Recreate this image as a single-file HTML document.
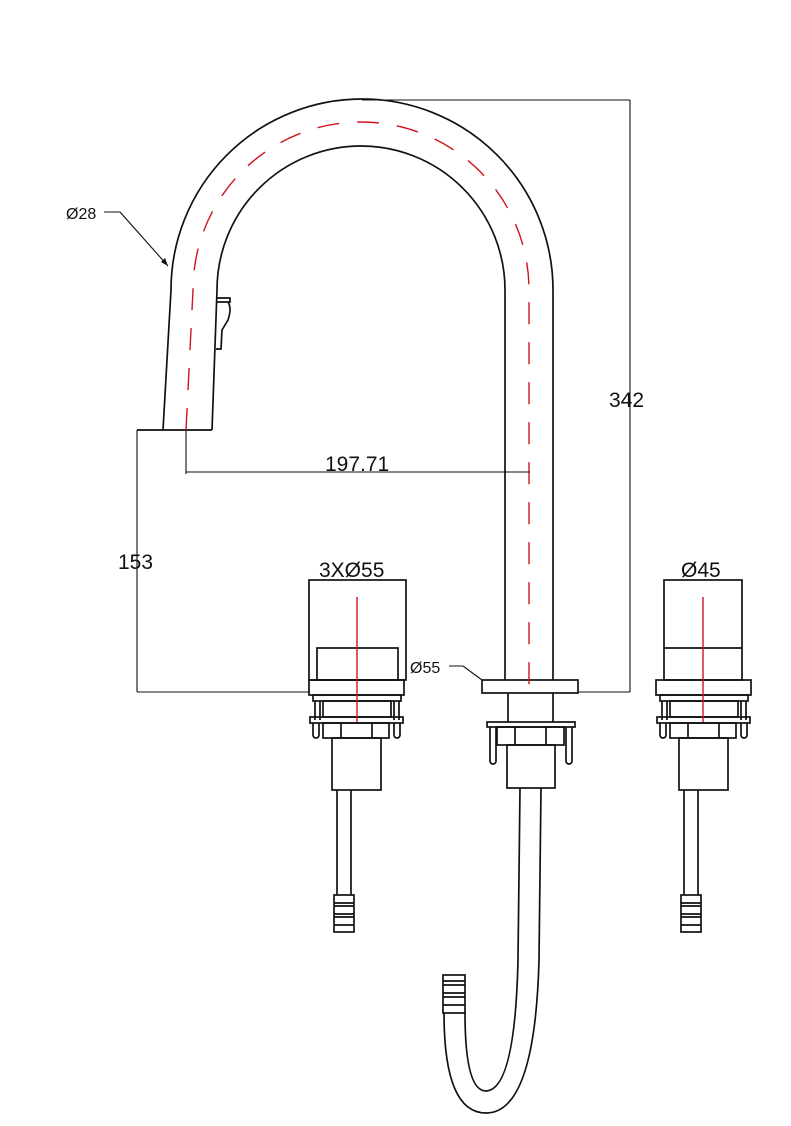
<!DOCTYPE html>
<html><head><style>body{margin:0;background:#fff}svg{display:block}text{font-family:"Liberation Sans",sans-serif;fill:#111}</style></head><body>
<svg width="791" height="1126" viewBox="0 0 791 1126" xmlns="http://www.w3.org/2000/svg">
<defs>
<g id="valve" fill="none" stroke="#111" stroke-width="1.7">
<rect x="656" y="680" width="95" height="15"/>
<rect x="660" y="695" width="88" height="6"/>
<line x1="662" y1="701" x2="662" y2="720"/><line x1="667" y1="701" x2="667" y2="720"/>
<line x1="741" y1="701" x2="741" y2="720"/><line x1="746" y1="701" x2="746" y2="720"/>
<rect x="670" y="701" width="68" height="16"/>
<rect x="657" y="717" width="93" height="6"/>
<rect x="670" y="723" width="66" height="15"/>
<line x1="688" y1="723" x2="688" y2="738"/><line x1="719" y1="723" x2="719" y2="738"/>
<path d="M660 723 v12 a3 3 0 0 0 6 0 v-12 M741 723 v12 a3 3 0 0 0 6 0 v-12"/>
<rect x="679" y="738" width="49" height="52"/>
<line x1="684" y1="790" x2="684" y2="895"/><line x1="698" y1="790" x2="698" y2="895"/>
<rect x="681" y="895" width="20" height="37"/>
<line x1="681" y1="903" x2="701" y2="903"/><line x1="681" y1="906" x2="701" y2="906"/>
<line x1="681" y1="914" x2="701" y2="914"/><line x1="681" y1="917" x2="701" y2="917"/>
<line x1="681" y1="925" x2="701" y2="925"/>
</g>
</defs>
<g fill="none" stroke="#111" stroke-width="1.7">
<path d="M163 430 L171 290 A191 191 0 0 1 553 290 L553 680"/>
<path d="M212 430 L217 290 A144 144 0 0 1 505 290 L505 680"/>
<line x1="137" y1="430" x2="212" y2="430"/>
<path d="M217 298 H230 V302 H217 M219 302 H228 Q232 308 228 320 L222 330 L221 349 H216"/>
<rect x="482" y="680" width="96" height="13"/>
<line x1="508" y1="693" x2="508" y2="722"/><line x1="553" y1="693" x2="553" y2="722"/>
<rect x="487" y="722" width="88" height="5"/>
<rect x="497" y="727" width="67" height="18"/>
<line x1="515" y1="727" x2="515" y2="745"/><line x1="546" y1="727" x2="546" y2="745"/>
<path d="M490 727 v34 a3 3 0 0 0 6 0 v-34 M566 727 v34 a3 3 0 0 0 6 0 v-34"/>
<rect x="507" y="745" width="48" height="43"/>
<path d="M520 788 L518 960 Q515 1090 486 1091 Q465 1091 465 1013"/>
<path d="M541 788 L539 960 Q535 1113 486 1113 Q444 1113 444 1013"/>
<rect x="443" y="975" width="22" height="38"/>
<line x1="443" y1="981" x2="465" y2="981"/><line x1="443" y1="985" x2="465" y2="985"/>
<line x1="443" y1="993" x2="465" y2="993"/><line x1="443" y1="997" x2="465" y2="997"/>
<line x1="443" y1="1005" x2="465" y2="1005"/>
<rect x="664" y="580" width="78" height="100"/>
<line x1="664" y1="648" x2="742" y2="648"/>
<rect x="309" y="580" width="97" height="100"/>
<rect x="317" y="648" width="81" height="32"/>
</g>
<use href="#valve"/>
<use href="#valve" transform="translate(-347,0)"/>
<g fill="none" stroke="#d0121b" stroke-width="1.4">
<path d="M186 430 L193 290 A168 168 0 0 1 529 290 L529 690" stroke-dasharray="22 18"/>
<line x1="357" y1="597" x2="357" y2="722"/>
<line x1="703" y1="597" x2="703" y2="722"/>
</g>
<g fill="none" stroke="#111" stroke-width="1.1">
<line x1="362" y1="100" x2="630" y2="100"/>
<line x1="630" y1="100" x2="630" y2="692"/>
<line x1="578" y1="692" x2="630" y2="692"/>
<line x1="137" y1="430" x2="137" y2="692"/>
<line x1="137" y1="692" x2="310" y2="692"/>
<line x1="186" y1="430" x2="186" y2="474"/>
<line x1="186" y1="472" x2="530" y2="472"/>
<line x1="309" y1="580" x2="406" y2="580"/>
<line x1="664" y1="580" x2="742" y2="580"/>
<path d="M104 212 H120 L168 266"/>
<path d="M449 666 H463 L482 680"/>
</g>
<path d="M168 266 L161 262 L165 258 Z" fill="#111"/>
<text x="609" y="407" font-size="21">342</text>
<text x="118" y="569" font-size="21">153</text>
<text x="325" y="471" font-size="21">197.71</text>
<text x="319" y="577" font-size="21">3XØ55</text>
<text x="681" y="577" font-size="21">Ø45</text>
<text x="66" y="219" font-size="16">Ø28</text>
<text x="410" y="673" font-size="16">Ø55</text>
</svg>
</body></html>
